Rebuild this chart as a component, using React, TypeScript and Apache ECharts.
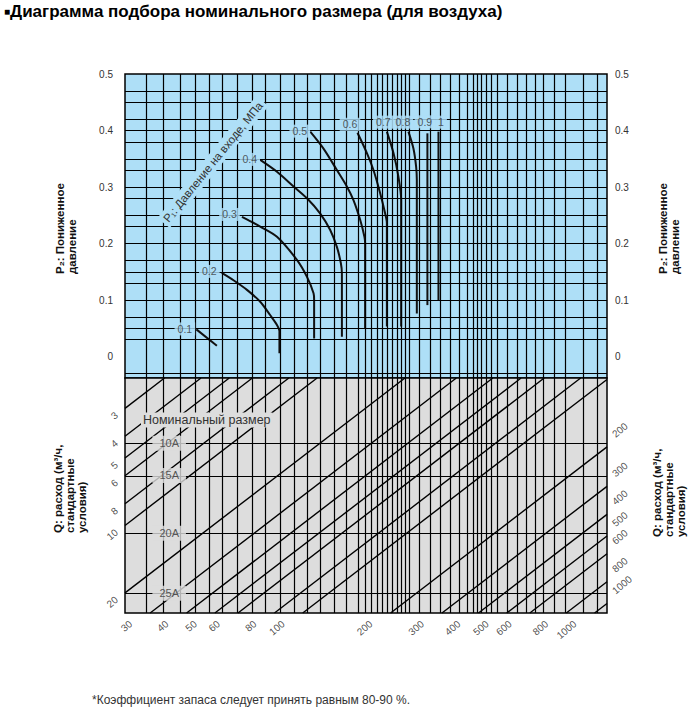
import React, { useEffect, useRef } from 'react';
import * as echarts from 'echarts';

// ---- scales (flow value at the lower edge of the chart, size factor, outlet pressure)
const X_MIN = 24.6;
const X_MAX = 1103;
const K_MIN = 1;
const K_MAX = 11.2;
const P2_MIN = -0.038;
const P2_MAX = 0.5;

// ---- tick labels
const p2Ticks = [0, 0.1, 0.2, 0.3, 0.4, 0.5];
const p2GridLines = [-0.025, 0.025, 0.05, 0.075, 0.1, 0.125, 0.15, 0.175, 0.2, 0.225, 0.25, 0.275, 0.3, 0.325, 0.35, 0.375, 0.4, 0.425, 0.45, 0.475];
const verticalGridLines = [29.1, 33.3, 38.1, 42.7, 47.8, 53, 59.6, 66.9, 74.4, 83.7, 93.5, 104, 115, 128, 141, 155, 164, 172, 180, 187, 195, 202, 210, 217, 225, 232, 250, 273, 296, 320, 343, 366, 384, 397, 410, 425, 442, 465, 503, 543, 585, 625, 669, 726, 792, 913, 1024];

// ---- nominal sizes
const sizeNames = ['10A', '15A', '20A', '25A'];
const sizeLevels = [5.7, 4.09, 2.26, 1.22];
const SIZE_LABEL_X = 35;

// ---- flow lines Q (m3/h)
const leftFlow = [3, 4, 5, 6, 8, 10, 20];
const bottomFlow = [30, 40, 50, 60, 80, 100, 200, 300, 400, 500, 600, 800, 1000];
const rightFlow = [200, 300, 400, 500, 600, 800, 1000];

// ---- P1 curves: [flow scale, P2]
const p1Names = ['0.1', '0.2', '0.3', '0.4', '0.5', '0.6', '0.7', '0.8', '0.9', '1'];
const curve01 = [[43.2, 0.048], [50.8, 0.019]];
const curve02 = [[52.8, 0.148], [57.9, 0.135], [64.4, 0.118], [71.5, 0.097], [77.4, 0.073], [81.6, 0.056], [83.2, 0.045], [83.2, 0.006]];
const curve03 = [[61.9, 0.247], [71.5, 0.23], [81.6, 0.212], [95.5, 0.171], [103.4, 0.141], [108.9, 0.112], [109.4, 0.1], [109.4, 0.032]];
const curve04 = [[71.5, 0.348], [81.6, 0.327], [93, 0.301], [103.4, 0.28], [114.8, 0.253], [124.2, 0.224], [130.9, 0.194], [135.1, 0.165], [136.2, 0.147], [136.2, 0.035]];
const curve05 = [[106.1, 0.398], [117.8, 0.368], [130.9, 0.33], [141.6, 0.301], [149.2, 0.277], [157.3, 0.242], [162.7, 0.212], [163.6, 0.2], [163.6, 0.05]];
const curve06 = [[154, 0.396], [165.9, 0.36], [174.7, 0.33], [184.2, 0.289], [191.6, 0.253], [194.2, 0.236], [194.2, 0.053]];
const curve07 = [[194.2, 0.398], [204.6, 0.36], [212.8, 0.318], [217.4, 0.277], [217.4, 0.053]];
const curve08 = [[230.2, 0.398], [239.5, 0.368], [244.6, 0.336], [246, 0.312], [246, 0.076]];
const curve09 = [[267.4, 0.395], [267.4, 0.091]];
const curve10 = [[291.8, 0.398], [291.8, 0.1]];
const p1Curves = [curve01, curve02, curve03, curve04, curve05, curve06, curve07, curve08, curve09, curve10];

// label placement for each P1 curve (style)
const p1LabelOffsets = [[-11, 0], [-12, -1], [-12, -2], [-10, 0], [-10, 0], [-7, -8], [-3, -9], [-5, -9], [-2, -11], [3, -9]];

const FONT = '"Liberation Sans", Arial, Helvetica, sans-serif';
const BLUE = '#aedff7';
const GRAY = '#dddddd';
const TXT = '#333';

function flowLine(q: number) {
  const x1 = Math.max(X_MIN, q * K_MIN);
  const x2 = Math.min(X_MAX, q * K_MAX);
  return [[x1, x1 / q], [x2, x2 / q]];
}

export default function App() {
  const ref = useRef<HTMLDivElement>(null);
  useEffect(() => {
    document.body.style.margin = '0';
    if (!ref.current) return;
    const chart = echarts.init(ref.current, undefined, { renderer: 'svg' });

    const gridMark = (xs: number[], ys: number[], yKey: string) => ({
      silent: true,
      symbol: ['none', 'none'],
      label: { show: false },
      lineStyle: { color: '#000', width: 1.2, type: 'solid' },
      emphasis: { disabled: true },
      animation: false,
      data: [...xs.map((v) => ({ xAxis: v })), ...ys.map((v) => ({ [yKey]: v }))],
    });

    const series: any[] = [];
    series.push({
      type: 'line', name: 'grid0', xAxisIndex: 0, yAxisIndex: 0, data: [[X_MIN, 0]], showSymbol: false, symbol: 'none', z: 1,
      lineStyle: { width: 0 }, silent: true,
      markLine: gridMark(verticalGridLines, p2GridLines, 'yAxis'),
    });
    series.push({
      type: 'line', name: 'grid1', xAxisIndex: 1, yAxisIndex: 2, data: [[X_MIN, 1]], showSymbol: false, symbol: 'none', z: 1,
      lineStyle: { width: 0 }, silent: true,
      markLine: gridMark(verticalGridLines, sizeLevels, 'yAxis'),
    });

    // P1 curves
    p1Curves.forEach((c, i) => {
      series.push({
        type: 'line', name: 'P1 ' + p1Names[i], xAxisIndex: 0, yAxisIndex: 0, data: c, symbol: 'none', smooth: 0.3,
        lineStyle: { color: '#111', width: 2 }, z: 3, silent: true,
      });
    });
    // P1 labels
    series.push({
      type: 'scatter', name: 'p1labels', xAxisIndex: 0, yAxisIndex: 0, symbolSize: 1, itemStyle: { color: 'rgba(0,0,0,0)' }, z: 5, silent: true,
      data: p1Curves.map((c, i) => ({
        value: c[0], name: p1Names[i],
        label: {
          show: true, formatter: '{b}', position: p1LabelOffsets[i], align: 'center', verticalAlign: 'middle',
          fontSize: 10.5, color: TXT, fontFamily: FONT, backgroundColor: BLUE, padding: [1, 3], textBorderWidth: 0,
        },
      })),
    });

    // flow lines
    const allFlow = [...leftFlow, ...bottomFlow];
    allFlow.forEach((q) => {
      series.push({
        type: 'line', name: 'Q ' + q, xAxisIndex: 1, yAxisIndex: 2, data: flowLine(q), symbol: 'none',
        lineStyle: { color: '#000', width: 1.4 }, z: 2, silent: true,
      });
    });

    const rotLabel = (pos: number[], align: string) => ({
      show: true, formatter: '{b}', position: pos, align, verticalAlign: 'middle', rotate: 40,
      fontSize: 10, color: '#222', fontFamily: FONT, textBorderWidth: 0,
    });
    series.push({
      type: 'scatter', name: 'leftQ', xAxisIndex: 1, yAxisIndex: 2, symbolSize: 1, itemStyle: { color: 'rgba(0,0,0,0)' }, z: 5, silent: true,
      data: leftFlow.map((q) => ({ value: [X_MIN, X_MIN / q], name: String(q) })),
      label: rotLabel([-8, 6], 'right'),
    });
    series.push({
      type: 'scatter', name: 'bottomQ', xAxisIndex: 1, yAxisIndex: 2, symbolSize: 1, itemStyle: { color: 'rgba(0,0,0,0)' }, z: 5, silent: true,
      data: bottomFlow.map((q) => ({ value: [q, K_MIN], name: String(q) })),
      label: rotLabel([-19, 10], 'right'),
    });
    series.push({
      type: 'scatter', name: 'rightQ', xAxisIndex: 1, yAxisIndex: 2, symbolSize: 1, itemStyle: { color: 'rgba(0,0,0,0)' }, z: 5, silent: true,
      data: rightFlow.map((q) => ({ value: [X_MAX, X_MAX / q], name: String(q) })),
      label: rotLabel([7, -11], 'left'),
    });
    // size labels
    series.push({
      type: 'scatter', name: 'sizes', xAxisIndex: 1, yAxisIndex: 2, symbolSize: 1, itemStyle: { color: 'rgba(0,0,0,0)' }, z: 5, silent: true,
      data: sizeLevels.map((k, i) => ({ value: [SIZE_LABEL_X, k], name: sizeNames[i] })),
      label: {
        show: true, formatter: '{b}', position: [0, 0], align: 'center', verticalAlign: 'middle',
        fontSize: 11, color: TXT, fontFamily: FONT, backgroundColor: GRAY, padding: [2, 7], textBorderWidth: 0,
      },
    });

    const axisLbl = (margin: number) => ({
      customValues: p2Ticks, margin, fontSize: 10, color: TXT, fontFamily: FONT,
      formatter: (v: number) => String(v),
    });

    const nameStyle = (text: string) => ({
      text, fill: '#111', font: `bold 11.5px ${FONT}`, lineHeight: 12, textAlign: 'left', textVerticalAlign: 'top',
    });

    chart.setOption({
      animation: false,
      grid: [
        { left: 125, top: 74, width: 482, height: 304, show: true, backgroundColor: BLUE, borderColor: '#000', borderWidth: 1.5 },
        { left: 125, top: 378, width: 482, height: 235, show: true, backgroundColor: GRAY, borderColor: '#000', borderWidth: 1.5 },
      ],
      xAxis: [
        { gridIndex: 0, type: 'log', min: X_MIN, max: X_MAX, show: false },
        { gridIndex: 1, type: 'log', min: X_MIN, max: X_MAX, show: false },
      ],
      yAxis: [
        { gridIndex: 0, type: 'value', min: P2_MIN, max: P2_MAX, position: 'left', axisLine: { show: false }, axisTick: { show: false }, splitLine: { show: false }, axisLabel: axisLbl(12) },
        { gridIndex: 0, type: 'value', min: P2_MIN, max: P2_MAX, position: 'right', axisLine: { show: false }, axisTick: { show: false }, splitLine: { show: false }, axisLabel: axisLbl(8) },
        { gridIndex: 1, type: 'log', min: K_MIN, max: K_MAX, show: false },
      ],
      series,
      graphic: [
        {
          type: 'text', left: 4, top: 3, silent: true,
          style: {
            text: '{s|■}{t|Диаграмма подбора номинального размера (для воздуха)}',
            rich: {
              s: { fontSize: 10, fontWeight: 'bold', fill: '#000', fontFamily: FONT },
              t: { fontSize: 17, fontWeight: 'bold', fill: '#000', fontFamily: FONT },
            },
          },
        },
        {
          type: 'text', x: 92, y: 700, silent: true,
          style: { text: '*Коэффициент запаса следует принять равным 80-90 %.', fill: TXT, font: `12px ${FONT}`, textVerticalAlign: 'middle' },
        },
        { type: 'text', x: 54, y: 274, rotation: Math.PI / 2, silent: true, style: nameStyle('P₂: Пониженное\nдавление') },
        { type: 'text', x: 657, y: 274, rotation: Math.PI / 2, silent: true, style: nameStyle('P₂: Пониженное\nдавление') },
        { type: 'text', x: 52, y: 533, rotation: Math.PI / 2, silent: true, style: nameStyle('Q: расход (м³/ч,\nстандартные\nусловия)') },
        { type: 'text', x: 651, y: 537, rotation: Math.PI / 2, silent: true, style: nameStyle('Q: расход (м³/ч,\nстандартные\nусловия)') },
        {
          type: 'text', x: 213, y: 162, rotation: (51 * Math.PI) / 180, silent: true, z: 10,
          style: {
            text: 'P₁: Давление на входе, МПа', fill: TXT, font: `11.5px ${FONT}`, textAlign: 'center', textVerticalAlign: 'middle',
            backgroundColor: BLUE, padding: [2, 3],
          },
        },
        {
          type: 'text', x: 141, y: 420, silent: true, z: 10,
          style: {
            text: 'Номинальный размер', fill: TXT, font: `12.5px ${FONT}`, textAlign: 'left', textVerticalAlign: 'middle',
            backgroundColor: GRAY, padding: [1, 2],
          },
        },
      ],
    });
    return () => chart.dispose();
  }, []);
  return <div ref={ref} style={{ width: 695, height: 712 }} />;
}
